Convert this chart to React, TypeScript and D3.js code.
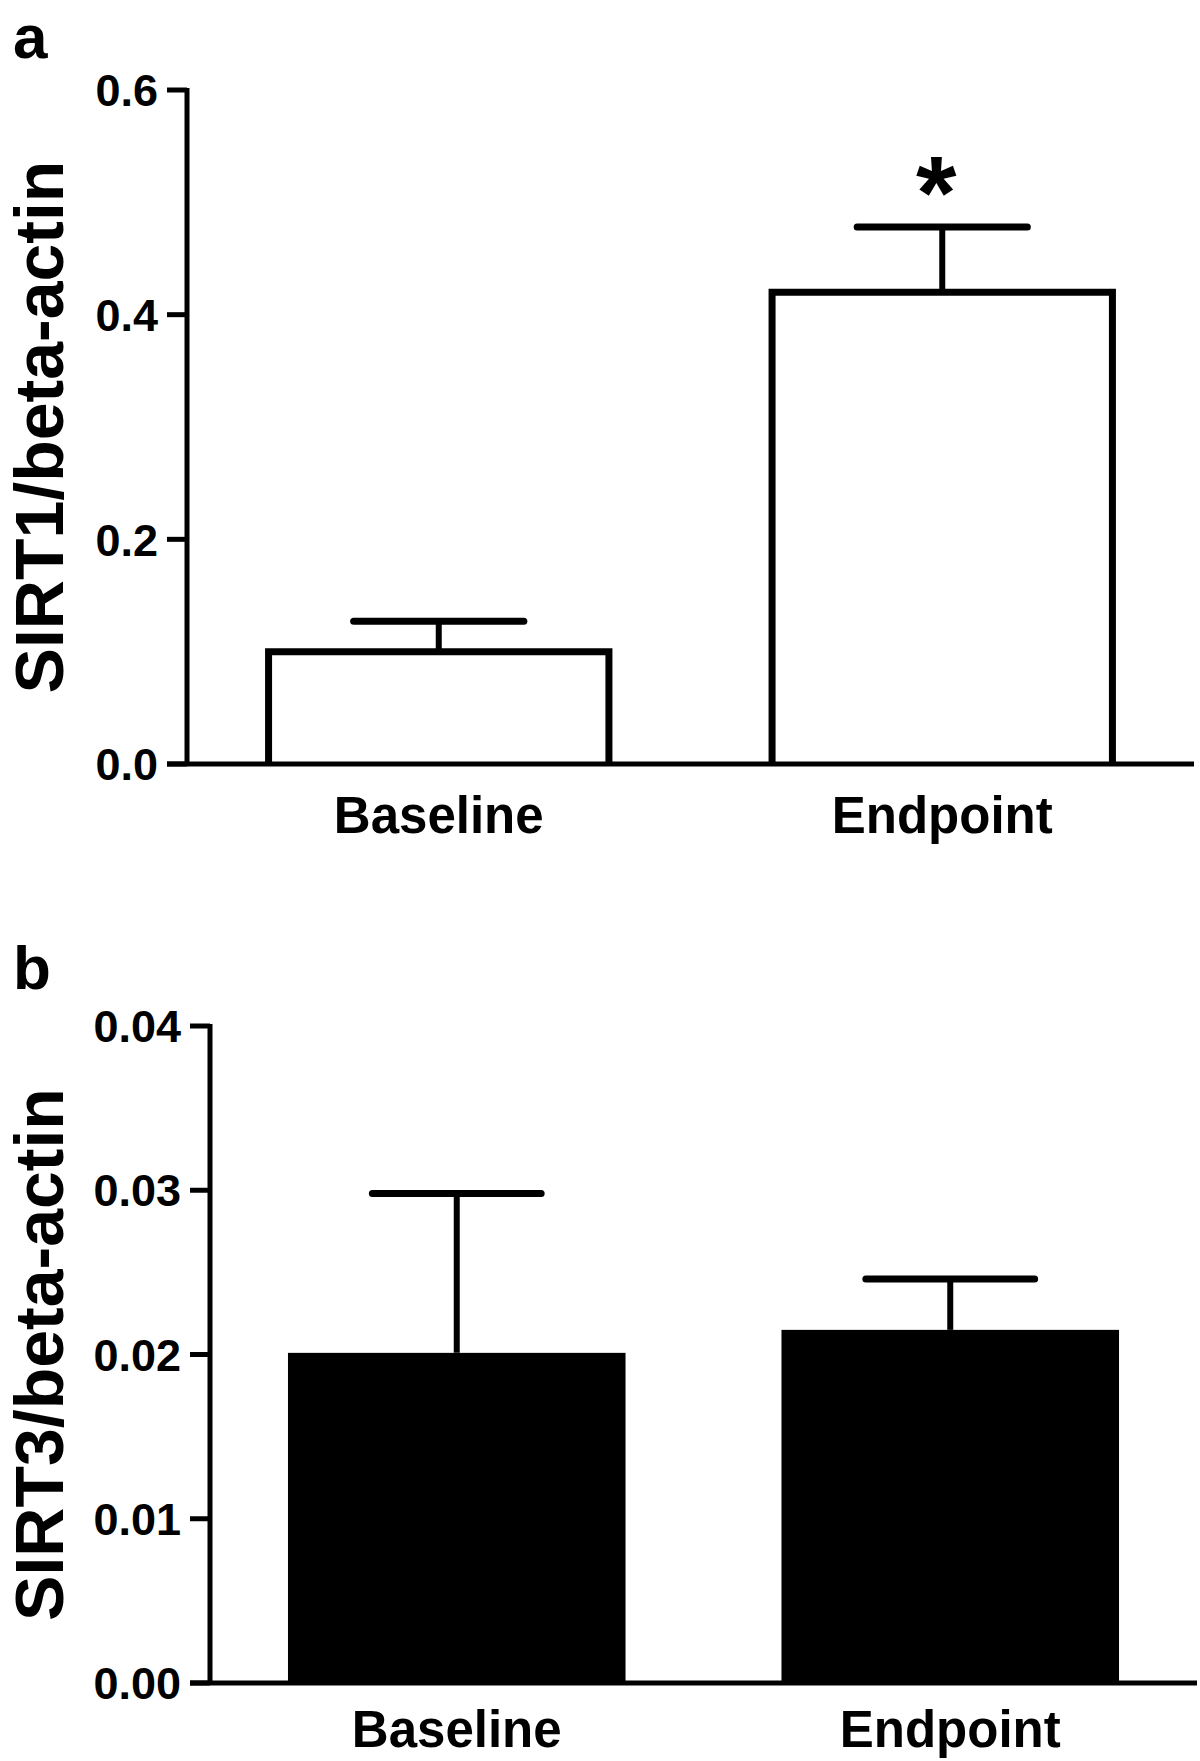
import React from "react";
import * as d3 from "d3";

const categories = ["Baseline", "Endpoint"];
const sirt1Mean = [0.1, 0.42];
const sirt1Sem = [0.027, 0.058];
const sirt3Mean = [0.0201, 0.0215];
const sirt3Sem = [0.0097, 0.0031];
const ticksA = [0, 0.2, 0.4, 0.6];
const ticksB = [0, 0.01, 0.02, 0.03, 0.04];

const FONT = "'Liberation Sans', Arial, sans-serif";

type PanelProps = {
  letter: string;
  letterY: number;
  yLabel: string;
  yLabelX: number;
  means: number[];
  sems: number[];
  domain: [number, number];
  ticks: number[];
  fmt: (v: number) => string;
  axisX: number;
  rightX: number;
  top: number;
  bottom: number;
  padInner: number;
  filled: boolean;
  labelY: number;
  star?: number;
};

function Panel(p: PanelProps) {
  const y = d3.scaleLinear().domain(p.domain).range([p.bottom, p.top]);
  const x = d3
    .scaleBand<string>()
    .domain(categories)
    .range([p.axisX, p.rightX])
    .paddingInner(p.padInner)
    .paddingOuter(p.padInner / 2);
  const bw = x.bandwidth();
  const tickLen = 20;
  const sw = p.filled ? 0 : 7;
  return (
    <g>
      <text x={13} y={p.letterY} fontFamily={FONT} fontWeight="bold" fontSize={62}>
        {p.letter}
      </text>
      <text
        transform={`translate(${p.yLabelX},${(p.top + p.bottom) / 2}) rotate(-90)`}
        textAnchor="middle"
        fontFamily={FONT}
        fontWeight="bold"
        fontSize={68}
      >
        {p.yLabel}
      </text>
      {categories.map((c, i) => {
        const x0 = x(c)!;
        const cx = x0 + bw / 2;
        const yt = y(p.means[i]);
        const ye = y(p.means[i] + p.sems[i]);
        return (
          <g key={c}>
            <line x1={cx} x2={cx} y1={yt} y2={ye} stroke="#000" strokeWidth={6} />
            <line
              x1={cx - bw / 4}
              x2={cx + bw / 4}
              y1={ye}
              y2={ye}
              stroke="#000"
              strokeWidth={7}
              strokeLinecap="round"
            />
            {p.filled ? (
              <rect x={x0} y={yt} width={bw} height={p.bottom - yt} fill="#000" />
            ) : (
              <path
                d={`M${x0},${p.bottom} V${yt} H${x0 + bw} V${p.bottom}`}
                fill="#fff"
                stroke="#000"
                strokeWidth={sw}
              />
            )}
            <text
              x={cx}
              y={p.labelY}
              textAnchor="middle"
              fontFamily={FONT}
              fontWeight="bold"
              fontSize={51}
            >
              {c}
            </text>
            {p.star === i && (
              <text
                x={cx - 6}
                y={ye + 2}
                textAnchor="middle"
                fontFamily={FONT}
                fontWeight="bold"
                fontSize={104}
              >
                *
              </text>
            )}
          </g>
        );
      })}
      <line x1={p.axisX} x2={p.axisX} y1={p.top - 2} y2={p.bottom} stroke="#000" strokeWidth={5} />
      {p.ticks.map((t) => (
        <g key={t}>
          <line
            x1={p.axisX - tickLen}
            x2={p.axisX}
            y1={y(t)}
            y2={y(t)}
            stroke="#000"
            strokeWidth={5}
          />
          <text
            x={p.axisX - tickLen - 9}
            y={y(t)}
            dy="0.36em"
            textAnchor="end"
            fontFamily={FONT}
            fontWeight="bold"
            fontSize={45}
          >
            {p.fmt(t)}
          </text>
        </g>
      ))}
      <line
        x1={p.axisX - tickLen}
        x2={p.rightX}
        y1={p.bottom}
        y2={p.bottom}
        stroke="#000"
        strokeWidth={5}
      />
    </g>
  );
}

export default function App() {
  return (
    <svg
      width={1200}
      height={1761}
      style={{ position: "absolute", left: 0, top: 0, background: "#fff" }}
    >
      <rect width={1200} height={1761} fill="#fff" />
      <Panel
        letter="a"
        letterY={58}
        yLabel="SIRT1/beta-actin"
        yLabelX={63}
        means={sirt1Mean}
        sems={sirt1Sem}
        domain={[0, 0.6]}
        ticks={ticksA}
        fmt={d3.format(".1f")}
        axisX={187}
        rightX={1194}
        top={90}
        bottom={764}
        padInner={0.324}
        filled={false}
        labelY={833}
        star={1}
      />
      <Panel
        letter="b"
        letterY={989}
        yLabel="SIRT3/beta-actin"
        yLabelX={63}
        means={sirt3Mean}
        sems={sirt3Sem}
        domain={[0, 0.04]}
        ticks={ticksB}
        fmt={d3.format(".2f")}
        axisX={210}
        rightX={1197}
        top={1026}
        bottom={1683}
        padInner={0.316}
        filled={true}
        labelY={1747}
      />
    </svg>
  );
}
